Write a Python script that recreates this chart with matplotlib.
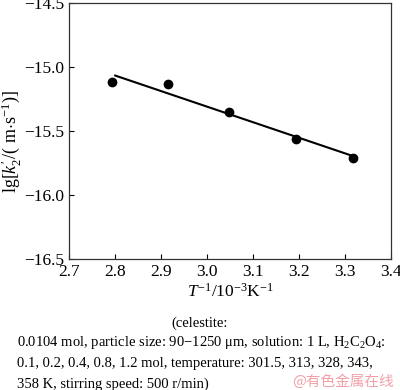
import matplotlib.pyplot as plt
import numpy as np

plt.rcParams['font.family'] = ['Liberation Serif', 'DejaVu Serif']
plt.rcParams['mathtext.fontset'] = 'custom'
plt.rcParams['mathtext.rm'] = 'Liberation Serif'
plt.rcParams['mathtext.it'] = 'Liberation Serif:italic'

# data
inv_T = [2.792, 2.914, 3.048, 3.194, 3.316]
lg_k2 = [-15.12, -15.13, -15.35, -15.56, -15.71]
x_ticks = [2.7, 2.8, 2.9, 3.0, 3.1, 3.2, 3.3, 3.4]
y_ticks = [-16.5, -16.0, -15.5, -15.0, -14.5]

fig = plt.figure(figsize=(4, 3.9), dpi=100)
ax = fig.add_axes([0.173, 0.336, 0.805, 0.656])

ax.plot(inv_T, lg_k2, 'o', color='black', markersize=6)
p = np.polyfit(inv_T, lg_k2, 1)
xf = np.array([2.80, inv_T[-1]])
ax.plot(xf, np.polyval(p, xf), color='black', linewidth=1.5)

ax.set_xlim(2.7, 3.4)
ax.set_ylim(-16.5, -14.5)
ax.set_xticks(x_ticks)
ax.set_yticks(y_ticks)
ax.set_xticklabels(['%.1f' % v for v in x_ticks])
ax.set_yticklabels(['\u2212%.1f' % abs(v) for v in y_ticks])
ax.tick_params(direction='in', length=3.5, labelsize=12.5, width=0.8)
for s in ax.spines.values():
    s.set_linewidth(0.9)
    s.set_color('#333333')

ax.set_xlabel(r'$T^{-1}$/10$^{-3}$K$^{-1}$', fontsize=12.5, labelpad=2)
ax.set_ylabel(r"lg[$k_2'$/( m$\cdot$s$^{-1}$)]", fontsize=13)
ax.yaxis.set_label_coords(-0.145, 0.46)

fig.text(0.5, 0.172, '(celestite:', fontsize=10.5, ha='center', va='center')
lines = ['0.0104 mol, particle size: 90\u22121250 \u03bcm, solution: 1 L, H$_2$C$_2$O$_4$:',
         '0.1, 0.2, 0.4, 0.8, 1.2 mol, temperature: 301.5, 313, 328, 343,',
         '358 K, stirring speed: 500 r/min)']
for i, t in enumerate(lines):
    fig.text(0.043, 0.122 - i * 0.053, t, fontsize=10.5, ha='left', va='center')

fig.text(0.985, 0.022, '@有色金属在线', fontsize=10.5, color='#f2a0a8', ha='right',
         va='center', family=['Noto Sans CJK SC', 'DejaVu Sans'])

fig.savefig('out.png', dpi=100)
